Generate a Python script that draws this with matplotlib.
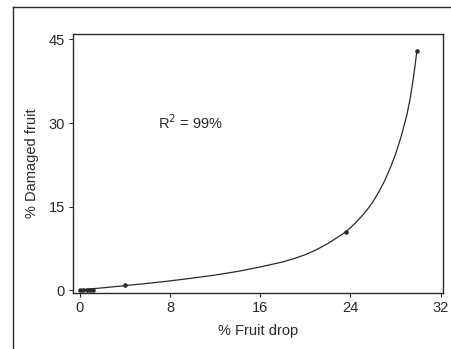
import matplotlib
matplotlib.use("Agg")
import matplotlib.pyplot as plt
from matplotlib.lines import Line2D

# Observed data points (% fruit drop, % damaged fruit)
obs_x = [0.0, 0.3, 0.6, 0.9, 1.2, 4.0, 23.6, 29.9]
obs_y = [0.0, 0.0, 0.0, 0.0, 0.0, 0.9, 10.5, 43.0]

# Fitted curve
curve_x = [0, 2, 4, 6, 8, 10, 12, 14, 16, 18, 19, 20, 21, 22, 23, 23.6, 24.3, 25,
           25.5, 26, 26.5, 27, 27.5, 28, 28.5, 29, 29.3, 29.6, 29.9]
curve_y = [0.1, 0.45, 0.85, 1.25, 1.7, 2.2, 2.75, 3.4, 4.2, 5.1, 5.7, 6.4, 7.3,
           8.4, 9.7, 10.5, 11.8, 13.3, 14.5, 15.9, 17.6, 19.5, 21.8, 24.4, 27.6,
           31.4, 34.4, 38.3, 43.0]

x_ticks = [0, 8, 16, 24, 32]
y_ticks = [0, 15, 30, 45]

plt.rcParams['font.family'] = ['Liberation Sans', 'DejaVu Sans']

fig = plt.figure(figsize=(4.51, 3.49), dpi=100)
ax = fig.add_axes([0.162, 0.160, 0.820, 0.743])

ink = '#2a2a2a'
ax.plot(curve_x, curve_y, color=ink, lw=0.9)
ax.plot(obs_x, obs_y, 'o', color=ink, ms=2.3, mec=ink)

ax.set_xlim(-0.6, 32.2)
ax.set_ylim(-0.5, 46)
ax.set_xticks(x_ticks)
ax.set_yticks(y_ticks)
ax.tick_params(direction='out', length=3, width=0.8, colors=ink,
               labelsize=10.5, pad=3)
for s in ax.spines.values():
    s.set_color(ink)
    s.set_linewidth(1.0)

ax.set_xlabel('% Fruit drop', fontsize=10.5, color=ink, labelpad=6)
ax.set_ylabel('% Damaged fruit', fontsize=10.5, color=ink, labelpad=7)
ax.text(6.9, 30, 'R$^2$ = 99%', fontsize=10.5, color=ink, va='center', ha='left')

# scanned page frame
fig.add_artist(Line2D([13/451, 1.0], [1 - 7/349, 1 - 7/349], color=ink, lw=1.0))
fig.add_artist(Line2D([13/451, 13/451], [0.0, 1 - 7/349], color=ink, lw=1.0))

fig.savefig('out.png', dpi=100)
